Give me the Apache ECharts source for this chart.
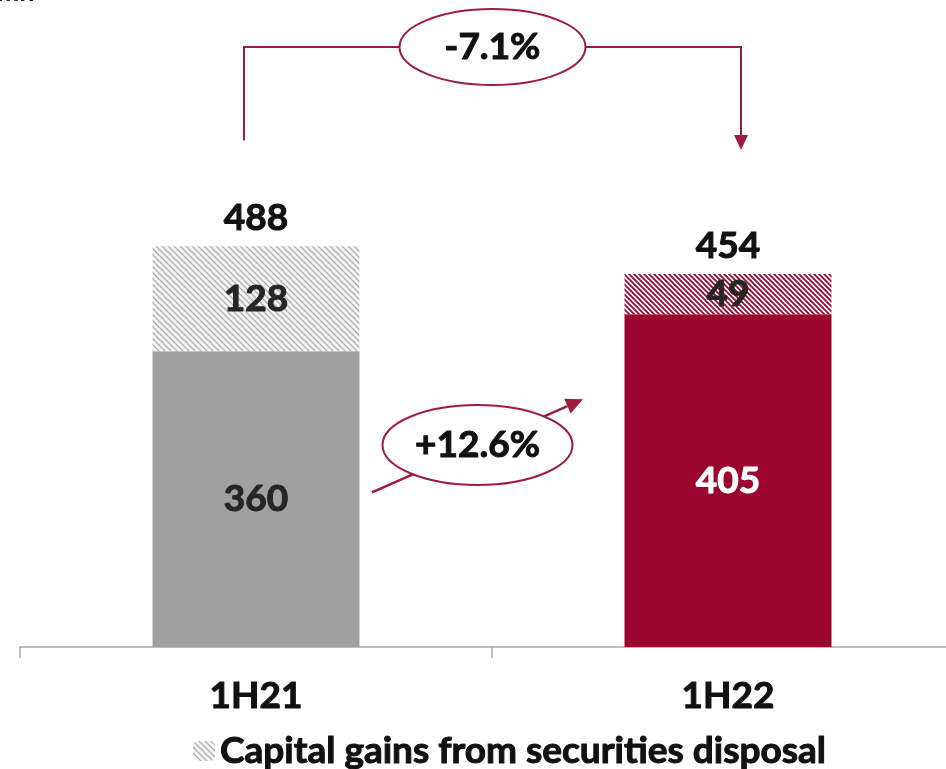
<!DOCTYPE html>
<html>
<head>
<meta charset="utf-8">
<script src="https://cdn.jsdelivr.net/npm/echarts@6/dist/echarts.min.js"></script>
<style>
  html, body { margin: 0; padding: 0; background: #fff; }
  #main { width: 946px; height: 769px; }
</style>
</head>
<body>
<div id="main"></div>
<script>
// data
var categories = ['1H21', '1H22'];
var baseValues = [360, 405];
var gainValues = [128, 49];
var totalValues = [488, 454];
var changeLabels = ['-7.1%', '+12.6%'];

var FONT = 'Lato';
var FW = 'bold';
var FS = 37;
var RED = '#9b0530';
var LINE = '#9e1c3e';

// diagonal hatch fill
function hatch(bg, fg, size, width) {
    var c = document.createElement('canvas');
    c.width = size; c.height = size;
    var ctx = c.getContext('2d');
    ctx.fillStyle = bg;
    ctx.fillRect(0, 0, size, size);
    ctx.strokeStyle = fg;
    ctx.lineWidth = width;
    ctx.beginPath();
    ctx.moveTo(-1, -1); ctx.lineTo(size + 1, size + 1);
    ctx.moveTo(-1, size - 1); ctx.lineTo(1, size + 1);
    ctx.moveTo(size - 1, -1); ctx.lineTo(size + 1, 1);
    ctx.stroke();
    return { image: c, repeat: 'repeat' };
}
var greyHatch = hatch('#f6f6f6', '#b0b0b0', 6, 1.4);
var redHatch = hatch('#ffffff', RED, 5, 1.8);

// heavier text, like the source's black weight
function txt(color) {
    return { fontFamily: FONT, fontWeight: FW, fontSize: FS, color: color, textBorderColor: color, textBorderWidth: 1 };
}

var myChart = echarts.init(document.getElementById('main'));

myChart.setOption({
    animation: false,
    grid: { left: 20, width: 944, top: 72, bottom: 122, containLabel: false, outerBoundsMode: 'none' },
    xAxis: {
        type: 'category',
        data: categories,
        axisLine: { lineStyle: { color: '#a8a8a8', width: 1.5 } },
        axisTick: { show: true, length: 11, lineStyle: { color: '#a8a8a8', width: 1.5 } },
        axisLabel: Object.assign({ margin: 31 }, txt('#111'))
    },
    yAxis: { type: 'value', min: 0, max: 700, show: false, splitLine: { show: false } },
    legend: {
        data: ['Capital gains from securities disposal'],
        left: 188,
        top: 727,
        itemWidth: 22,
        itemHeight: 20,
        itemGap: 6,
        selectedMode: false,
        textStyle: txt('#111')
    },
    series: [{
        name: 'Base',
        type: 'bar',
        stack: 'a',
        barWidth: 207,
        data: [
            { value: baseValues[0], itemStyle: { color: '#a0a0a0' }, label: txt('#262626') },
            { value: baseValues[1], itemStyle: { color: RED }, label: txt('#fff') }
        ],
        label: Object.assign({ show: true, position: 'inside' }, txt('#262626'))
    }, {
        name: 'Capital gains from securities disposal',
        type: 'bar',
        stack: 'a',
        barWidth: 207,
        itemStyle: { color: greyHatch },
        data: [
            { value: gainValues[0] },
            { value: gainValues[1], itemStyle: { color: redHatch } }
        ],
        label: Object.assign({ show: true, position: 'inside' }, txt('#262626'))
    }, {
        name: 'Total',
        type: 'bar',
        barWidth: 207,
        barGap: '-100%',
        z: 1,
        itemStyle: { color: 'rgba(0,0,0,0)' },
        data: totalValues,
        label: Object.assign({ show: true, position: 'top', distance: 10 }, txt('#111'))
    }]
});

// annotations anchored on the bars
var p1 = myChart.convertToPixel({ xAxisIndex: 0, yAxisIndex: 0 }, [0, totalValues[0]]);
var p2 = myChart.convertToPixel({ xAxisIndex: 0, yAxisIndex: 0 }, [1, totalValues[1]]);
var b1 = myChart.convertToPixel({ xAxisIndex: 0, yAxisIndex: 0 }, [0, baseValues[0]]);
var b2 = myChart.convertToPixel({ xAxisIndex: 0, yAxisIndex: 0 }, [1, baseValues[1]]);

var topY = 47;
var lx = p1[0] - 12, rx = p2[0] + 13;
var downEnd = p2[1] - 124;
var ovalTop = { cx: (lx + rx) / 2, cy: topY, rx: 93, ry: 38 };

// diagonal arrow
var a0 = [b1[0] + 116, b1[1] + 141];
var a1 = [b2[0] - 145, b2[1] + 85];
var dx = a1[0] - a0[0], dy = a1[1] - a0[1];
var len = Math.sqrt(dx * dx + dy * dy);
var ux = dx / len, uy = dy / len;
var head = 17, hw = 8;
var hb = [a1[0] - ux * head, a1[1] - uy * head];
var ovalMid = { cx: (a0[0] + a1[0]) / 2, cy: 445, rx: 95, ry: 40 };

var lineStyle = { stroke: LINE, lineWidth: 2, fill: null };
var labelFont = FW + ' ' + FS + 'px Lato';

myChart.setOption({
    graphic: [
        { type: 'text', left: -2, top: -22, style: { text: 'mn', font: 'italic bold 28px Lato', fill: '#222' } },
        { type: 'polyline', shape: { points: [[lx, p1[1] - 106], [lx, topY], [rx, topY], [rx, downEnd - 14]] }, style: lineStyle },
        { type: 'polygon', shape: { points: [[rx - 7, downEnd - 15], [rx + 7, downEnd - 15], [rx, downEnd]] }, style: { fill: LINE } },
        { type: 'ellipse', shape: ovalTop, style: { fill: '#fff', stroke: LINE, lineWidth: 2 } },
        { type: 'text', x: ovalTop.cx, y: ovalTop.cy, style: { text: changeLabels[0], font: labelFont, fill: '#111', stroke: '#111', lineWidth: 1, align: 'center', verticalAlign: 'middle' } },
        { type: 'line', shape: { x1: a0[0], y1: a0[1], x2: hb[0], y2: hb[1] }, style: { stroke: LINE, lineWidth: 2.5 } },
        { type: 'polygon', shape: { points: [a1, [hb[0] - uy * hw, hb[1] + ux * hw], [hb[0] + uy * hw, hb[1] - ux * hw]] }, style: { fill: LINE } },
        { type: 'ellipse', shape: ovalMid, style: { fill: '#fff', stroke: LINE, lineWidth: 2 } },
        { type: 'text', x: ovalMid.cx, y: ovalMid.cy, style: { text: changeLabels[1], font: labelFont, fill: '#111', stroke: '#111', lineWidth: 1, align: 'center', verticalAlign: 'middle' } }
    ]
});
</script>
</body>
</html>
